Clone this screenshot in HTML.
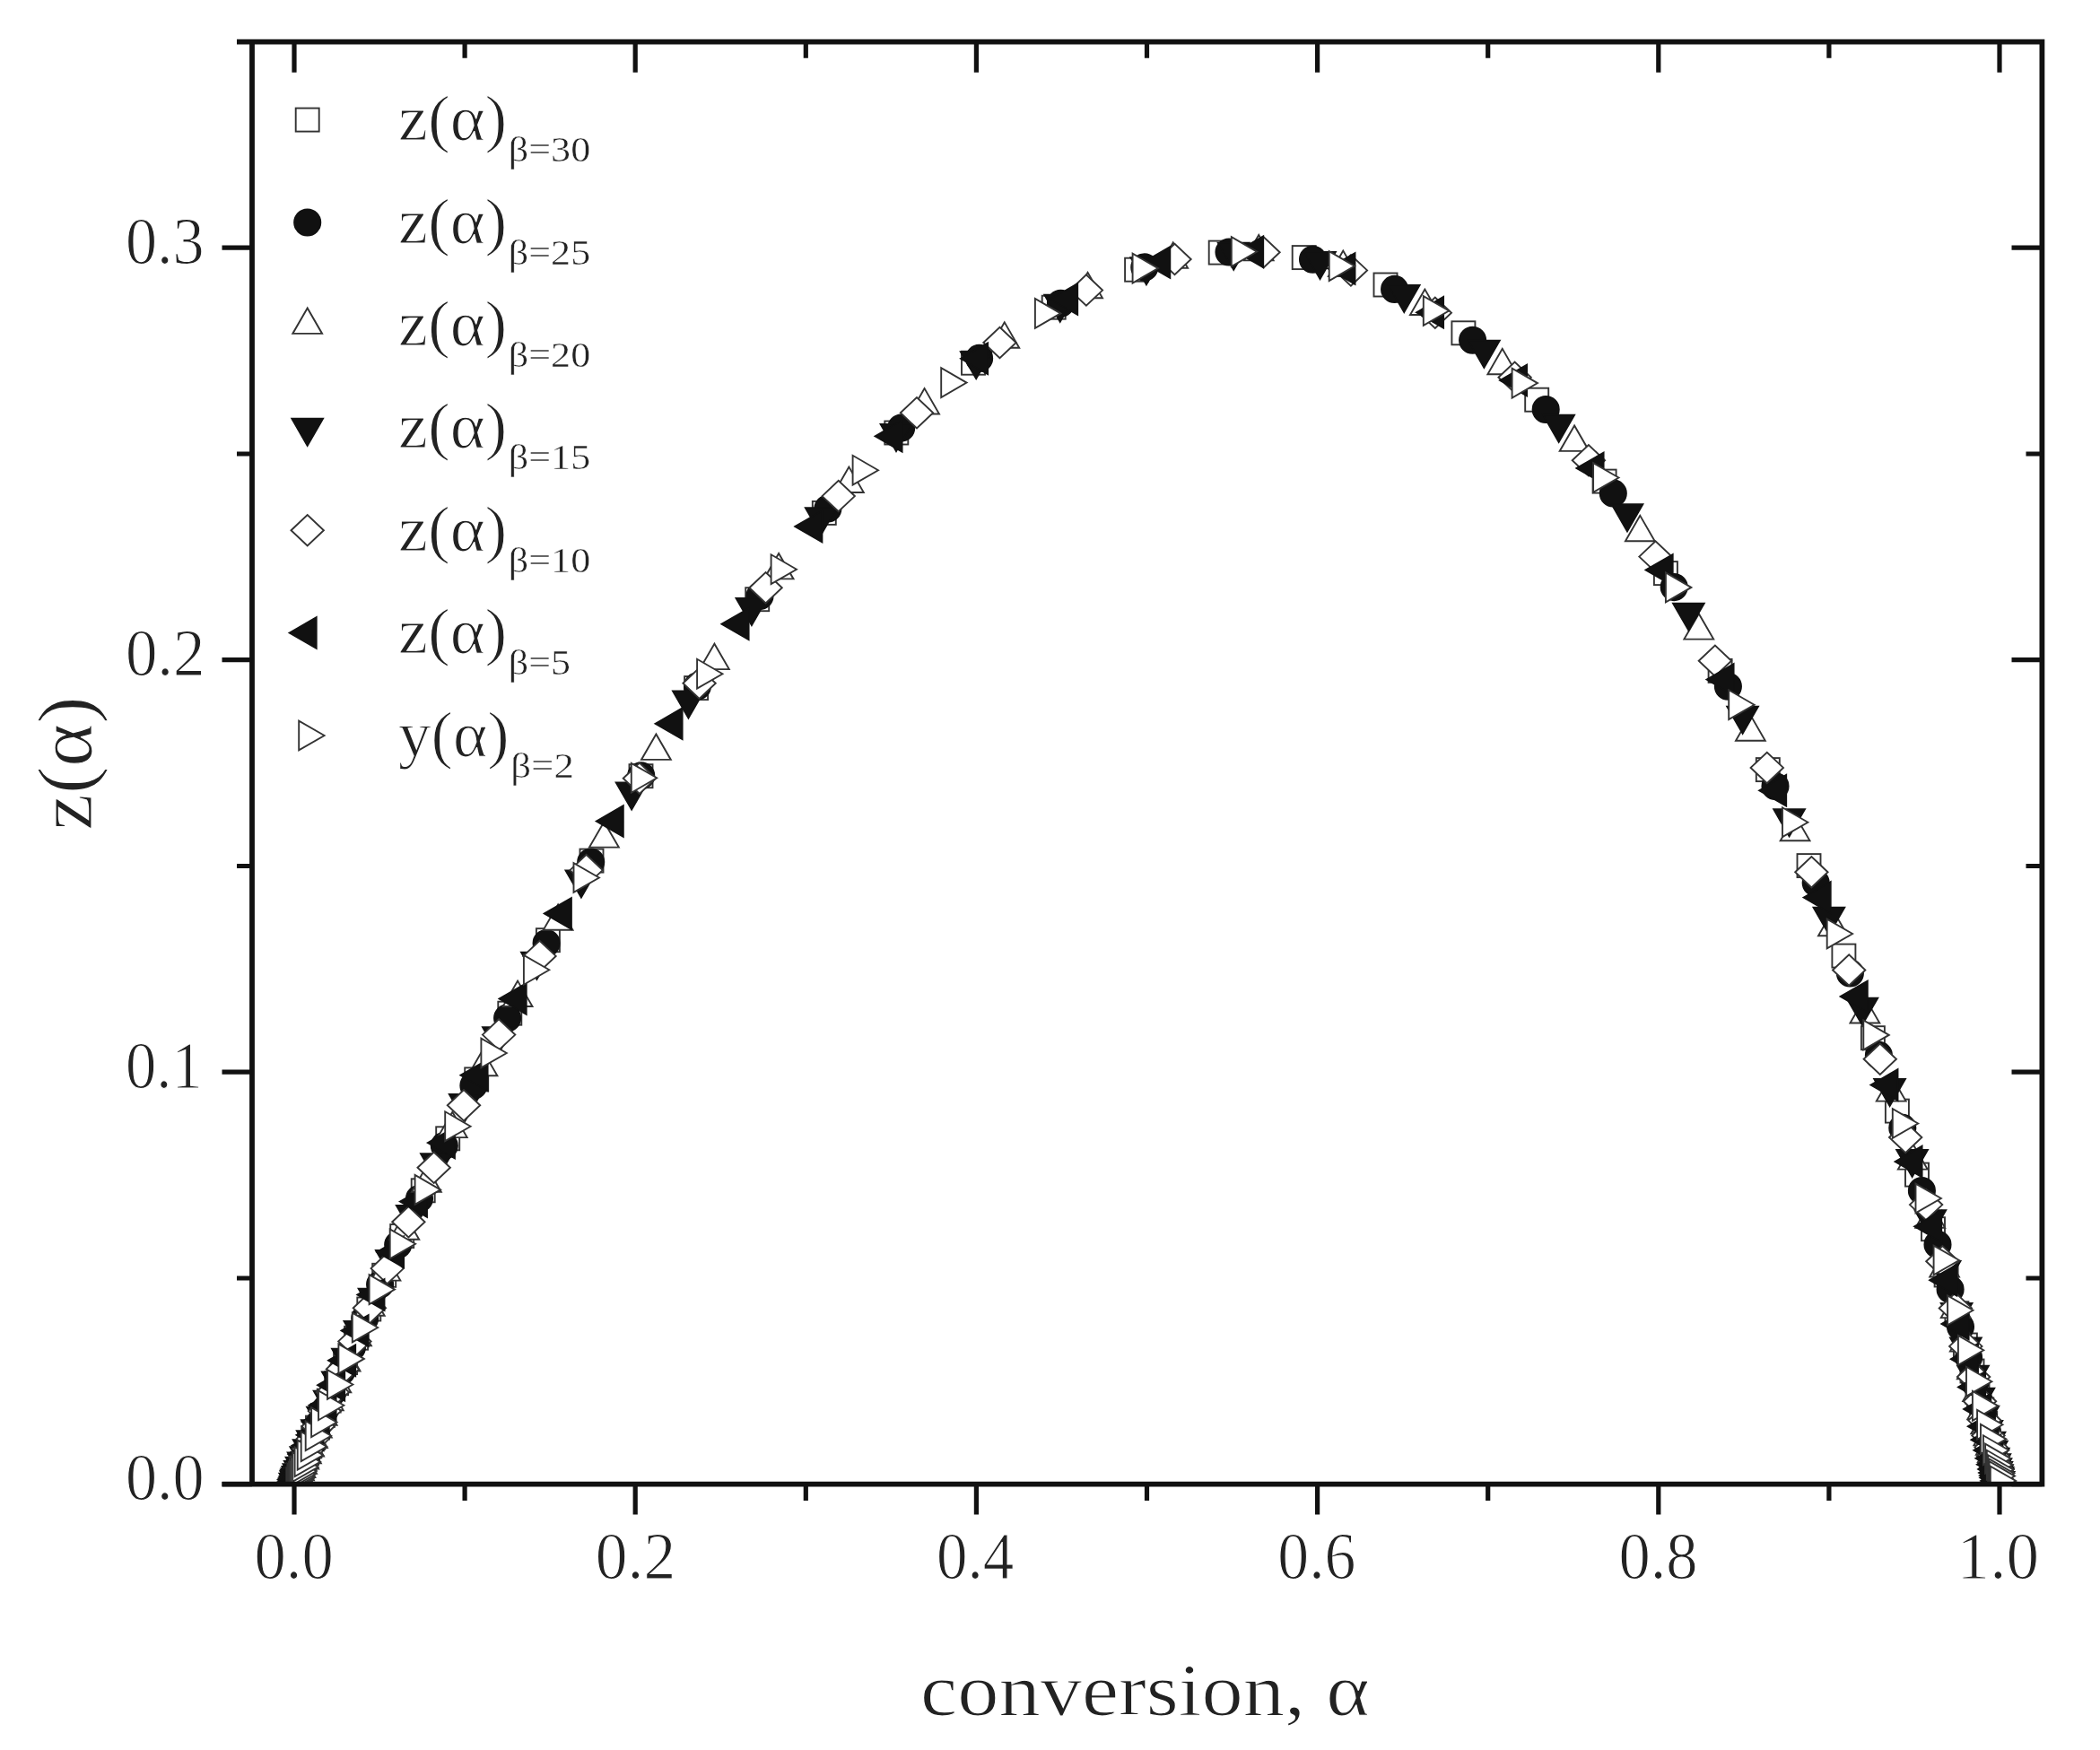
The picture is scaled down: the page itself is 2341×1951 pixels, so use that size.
<!DOCTYPE html>
<html lang="en"><head><meta charset="utf-8"><title>z(α) master plot</title>
<style>
html,body{margin:0;padding:0;background:#fff}
svg{display:block;filter:blur(0.75px)}
text{font-family:"Liberation Serif","DejaVu Serif",serif;fill:#222;stroke:#fff;stroke-width:1.1px}
.sub{stroke-width:0.45px}
.o{fill:#fff;stroke:#333;stroke-width:1.9;stroke-linejoin:miter}
.f{fill:#111;stroke:#111;stroke-width:1.5;stroke-linejoin:miter}
</style></head><body>
<svg width="2341" height="1951" viewBox="0 0 2341 1951">
<rect width="100%" height="100%" fill="#fff"/>
<defs><clipPath id="cp"><rect x="281.0" y="46.6" width="1995.4" height="1608.1000000000001"/></clipPath></defs>
<g id="series" clip-path="url(#cp)">
<g class="s-sq">
<rect x="315.8" y="1639.7" width="26.0" height="26.0" class="o"/>
<rect x="316.6" y="1637.6" width="26.0" height="26.0" class="o"/>
<rect x="317.0" y="1636.6" width="26.0" height="26.0" class="o"/>
<rect x="317.5" y="1635.4" width="26.0" height="26.0" class="o"/>
<rect x="318.1" y="1633.8" width="26.0" height="26.0" class="o"/>
<rect x="318.9" y="1631.9" width="26.0" height="26.0" class="o"/>
<rect x="319.8" y="1629.5" width="26.0" height="26.0" class="o"/>
<rect x="321.0" y="1626.6" width="26.0" height="26.0" class="o"/>
<rect x="322.5" y="1623.1" width="26.0" height="26.0" class="o"/>
<rect x="324.2" y="1618.8" width="26.0" height="26.0" class="o"/>
<rect x="326.4" y="1613.5" width="26.0" height="26.0" class="o"/>
<rect x="329.1" y="1607.1" width="26.0" height="26.0" class="o"/>
<rect x="332.3" y="1599.3" width="26.0" height="26.0" class="o"/>
<rect x="336.2" y="1589.9" width="26.0" height="26.0" class="o"/>
<rect x="341.0" y="1578.6" width="26.0" height="26.0" class="o"/>
<rect x="346.8" y="1564.9" width="26.0" height="26.0" class="o"/>
<rect x="353.7" y="1548.6" width="26.0" height="26.0" class="o"/>
<rect x="362.1" y="1529.2" width="26.0" height="26.0" class="o"/>
<rect x="372.1" y="1506.1" width="26.0" height="26.0" class="o"/>
<rect x="384.1" y="1478.7" width="26.0" height="26.0" class="o"/>
<rect x="398.3" y="1446.5" width="26.0" height="26.0" class="o"/>
<rect x="415.2" y="1408.8" width="26.0" height="26.0" class="o"/>
<rect x="435.2" y="1365.0" width="26.0" height="26.0" class="o"/>
<rect x="458.7" y="1314.3" width="26.0" height="26.0" class="o"/>
<rect x="486.2" y="1256.3" width="26.0" height="26.0" class="o"/>
<rect x="518.2" y="1190.4" width="26.0" height="26.0" class="o"/>
<rect x="555.3" y="1116.7" width="26.0" height="26.0" class="o"/>
<rect x="597.9" y="1035.2" width="26.0" height="26.0" class="o"/>
<rect x="646.5" y="946.6" width="26.0" height="26.0" class="o"/>
<rect x="701.5" y="852.2" width="26.0" height="26.0" class="o"/>
<rect x="763.1" y="754.1" width="26.0" height="26.0" class="o"/>
<rect x="831.2" y="655.2" width="26.0" height="26.0" class="o"/>
<rect x="905.8" y="558.9" width="26.0" height="26.0" class="o"/>
<rect x="986.3" y="469.5" width="26.0" height="26.0" class="o"/>
<rect x="1072.0" y="391.7" width="26.0" height="26.0" class="o"/>
<rect x="1161.7" y="329.7" width="26.0" height="26.0" class="o"/>
<rect x="1254.1" y="287.7" width="26.0" height="26.0" class="o"/>
<rect x="1347.7" y="268.6" width="26.0" height="26.0" class="o"/>
<rect x="1440.7" y="274.1" width="26.0" height="26.0" class="o"/>
<rect x="1531.5" y="304.5" width="26.0" height="26.0" class="o"/>
<rect x="1618.4" y="358.3" width="26.0" height="26.0" class="o"/>
<rect x="1700.2" y="432.7" width="26.0" height="26.0" class="o"/>
<rect x="1775.6" y="523.6" width="26.0" height="26.0" class="o"/>
<rect x="1843.9" y="626.1" width="26.0" height="26.0" class="o"/>
<rect x="1904.6" y="734.9" width="26.0" height="26.0" class="o"/>
<rect x="1957.8" y="845.1" width="26.0" height="26.0" class="o"/>
<rect x="2003.5" y="952.1" width="26.0" height="26.0" class="o"/>
<rect x="2042.4" y="1052.6" width="26.0" height="26.0" class="o"/>
<rect x="2074.9" y="1144.2" width="26.0" height="26.0" class="o"/>
<rect x="2101.9" y="1225.6" width="26.0" height="26.0" class="o"/>
<rect x="2124.0" y="1296.6" width="26.0" height="26.0" class="o"/>
<rect x="2142.0" y="1357.2" width="26.0" height="26.0" class="o"/>
<rect x="2156.6" y="1408.5" width="26.0" height="26.0" class="o"/>
<rect x="2168.4" y="1451.2" width="26.0" height="26.0" class="o"/>
<rect x="2177.9" y="1486.5" width="26.0" height="26.0" class="o"/>
<rect x="2185.5" y="1515.5" width="26.0" height="26.0" class="o"/>
<rect x="2191.5" y="1539.1" width="26.0" height="26.0" class="o"/>
<rect x="2196.3" y="1558.4" width="26.0" height="26.0" class="o"/>
<rect x="2200.2" y="1574.0" width="26.0" height="26.0" class="o"/>
<rect x="2203.3" y="1586.7" width="26.0" height="26.0" class="o"/>
<rect x="2205.8" y="1596.9" width="26.0" height="26.0" class="o"/>
<rect x="2207.7" y="1605.2" width="26.0" height="26.0" class="o"/>
<rect x="2209.3" y="1611.9" width="26.0" height="26.0" class="o"/>
<rect x="2210.6" y="1617.3" width="26.0" height="26.0" class="o"/>
<rect x="2211.6" y="1621.7" width="26.0" height="26.0" class="o"/>
<rect x="2212.4" y="1625.2" width="26.0" height="26.0" class="o"/>
<rect x="2213.0" y="1628.1" width="26.0" height="26.0" class="o"/>
<rect x="2213.6" y="1630.5" width="26.0" height="26.0" class="o"/>
<rect x="2214.0" y="1632.4" width="26.0" height="26.0" class="o"/>
<rect x="2214.3" y="1634.0" width="26.0" height="26.0" class="o"/>
<rect x="2215.2" y="1638.0" width="26.0" height="26.0" class="o"/>
</g>
<g class="s-ci">
<circle cx="328.8" cy="1652.7" r="14.8" class="f"/>
<circle cx="329.6" cy="1650.6" r="14.8" class="f"/>
<circle cx="330.1" cy="1649.4" r="14.8" class="f"/>
<circle cx="330.7" cy="1647.9" r="14.8" class="f"/>
<circle cx="331.5" cy="1646.0" r="14.8" class="f"/>
<circle cx="332.4" cy="1643.5" r="14.8" class="f"/>
<circle cx="333.7" cy="1640.5" r="14.8" class="f"/>
<circle cx="335.2" cy="1636.7" r="14.8" class="f"/>
<circle cx="337.1" cy="1632.1" r="14.8" class="f"/>
<circle cx="339.5" cy="1626.3" r="14.8" class="f"/>
<circle cx="342.5" cy="1619.1" r="14.8" class="f"/>
<circle cx="346.1" cy="1610.4" r="14.8" class="f"/>
<circle cx="350.6" cy="1599.7" r="14.8" class="f"/>
<circle cx="356.1" cy="1586.6" r="14.8" class="f"/>
<circle cx="362.8" cy="1570.9" r="14.8" class="f"/>
<circle cx="370.9" cy="1551.9" r="14.8" class="f"/>
<circle cx="380.7" cy="1529.1" r="14.8" class="f"/>
<circle cx="392.5" cy="1502.0" r="14.8" class="f"/>
<circle cx="406.7" cy="1469.8" r="14.8" class="f"/>
<circle cx="423.6" cy="1432.0" r="14.8" class="f"/>
<circle cx="443.7" cy="1387.7" r="14.8" class="f"/>
<circle cx="467.5" cy="1336.3" r="14.8" class="f"/>
<circle cx="495.3" cy="1277.3" r="14.8" class="f"/>
<circle cx="527.9" cy="1210.2" r="14.8" class="f"/>
<circle cx="565.6" cy="1134.9" r="14.8" class="f"/>
<circle cx="609.1" cy="1051.6" r="14.8" class="f"/>
<circle cx="658.7" cy="961.1" r="14.8" class="f"/>
<circle cx="714.7" cy="864.8" r="14.8" class="f"/>
<circle cx="777.5" cy="764.9" r="14.8" class="f"/>
<circle cx="847.0" cy="664.4" r="14.8" class="f"/>
<circle cx="922.9" cy="567.0" r="14.8" class="f"/>
<circle cx="1004.7" cy="477.1" r="14.8" class="f"/>
<circle cx="1091.6" cy="399.4" r="14.8" class="f"/>
<circle cx="1182.4" cy="338.3" r="14.8" class="f"/>
<circle cx="1275.8" cy="297.9" r="14.8" class="f"/>
<circle cx="1370.0" cy="281.0" r="14.8" class="f"/>
<circle cx="1463.5" cy="289.2" r="14.8" class="f"/>
<circle cx="1554.6" cy="322.4" r="14.8" class="f"/>
<circle cx="1641.6" cy="379.2" r="14.8" class="f"/>
<circle cx="1723.2" cy="456.5" r="14.8" class="f"/>
<circle cx="1798.3" cy="549.9" r="14.8" class="f"/>
<circle cx="1866.2" cy="654.6" r="14.8" class="f"/>
<circle cx="1926.4" cy="765.2" r="14.8" class="f"/>
<circle cx="1979.0" cy="876.5" r="14.8" class="f"/>
<circle cx="2024.2" cy="984.2" r="14.8" class="f"/>
<circle cx="2062.4" cy="1084.9" r="14.8" class="f"/>
<circle cx="2094.4" cy="1176.4" r="14.8" class="f"/>
<circle cx="2120.8" cy="1257.4" r="14.8" class="f"/>
<circle cx="2142.4" cy="1327.6" r="14.8" class="f"/>
<circle cx="2160.0" cy="1387.4" r="14.8" class="f"/>
<circle cx="2174.1" cy="1437.6" r="14.8" class="f"/>
<circle cx="2185.5" cy="1479.3" r="14.8" class="f"/>
<circle cx="2194.6" cy="1513.5" r="14.8" class="f"/>
<circle cx="2201.8" cy="1541.4" r="14.8" class="f"/>
<circle cx="2207.5" cy="1564.0" r="14.8" class="f"/>
<circle cx="2212.0" cy="1582.3" r="14.8" class="f"/>
<circle cx="2215.6" cy="1596.9" r="14.8" class="f"/>
<circle cx="2218.5" cy="1608.7" r="14.8" class="f"/>
<circle cx="2220.7" cy="1618.1" r="14.8" class="f"/>
<circle cx="2222.5" cy="1625.6" r="14.8" class="f"/>
<circle cx="2223.9" cy="1631.6" r="14.8" class="f"/>
<circle cx="2224.9" cy="1636.3" r="14.8" class="f"/>
<circle cx="2225.8" cy="1640.1" r="14.8" class="f"/>
<circle cx="2226.5" cy="1643.1" r="14.8" class="f"/>
<circle cx="2227.0" cy="1645.5" r="14.8" class="f"/>
<circle cx="2227.4" cy="1647.4" r="14.8" class="f"/>
<circle cx="2228.2" cy="1651.0" r="14.8" class="f"/>
</g>
<g class="s-up">
<polygon points="328.8,1633.8 312.4,1662.2 345.2,1662.2" class="o"/>
<polygon points="329.7,1631.4 313.3,1659.8 346.1,1659.8" class="o"/>
<polygon points="330.2,1630.2 313.8,1658.6 346.6,1658.6" class="o"/>
<polygon points="330.7,1628.8 314.3,1657.2 347.1,1657.2" class="o"/>
<polygon points="331.5,1627.0 315.1,1655.4 347.9,1655.4" class="o"/>
<polygon points="332.4,1624.8 316.0,1653.2 348.8,1653.2" class="o"/>
<polygon points="333.5,1622.0 317.1,1650.4 349.9,1650.4" class="o"/>
<polygon points="334.9,1618.6 318.5,1647.0 351.3,1647.0" class="o"/>
<polygon points="336.6,1614.3 320.2,1642.7 353.0,1642.7" class="o"/>
<polygon points="338.8,1609.2 322.4,1637.6 355.2,1637.6" class="o"/>
<polygon points="341.4,1602.8 325.0,1631.2 357.8,1631.2" class="o"/>
<polygon points="344.6,1595.1 328.2,1623.5 361.0,1623.5" class="o"/>
<polygon points="348.5,1585.6 332.1,1614.0 364.9,1614.0" class="o"/>
<polygon points="353.3,1574.2 336.9,1602.6 369.7,1602.6" class="o"/>
<polygon points="359.2,1560.4 342.8,1588.8 375.6,1588.8" class="o"/>
<polygon points="366.3,1543.8 349.9,1572.2 382.7,1572.2" class="o"/>
<polygon points="374.8,1523.8 358.4,1552.2 391.2,1552.2" class="o"/>
<polygon points="385.1,1500.1 368.7,1528.5 401.5,1528.5" class="o"/>
<polygon points="397.5,1471.8 381.1,1500.2 413.9,1500.2" class="o"/>
<polygon points="412.3,1438.4 395.9,1466.8 428.7,1466.8" class="o"/>
<polygon points="429.9,1399.2 413.5,1427.6 446.3,1427.6" class="o"/>
<polygon points="450.8,1353.4 434.4,1381.8 467.2,1381.8" class="o"/>
<polygon points="475.4,1300.4 459.0,1328.8 491.8,1328.8" class="o"/>
<polygon points="504.3,1239.7 487.9,1268.1 520.7,1268.1" class="o"/>
<polygon points="538.0,1170.8 521.6,1199.2 554.4,1199.2" class="o"/>
<polygon points="577.1,1093.6 560.7,1122.0 593.5,1122.0" class="o"/>
<polygon points="622.1,1008.4 605.7,1036.8 638.5,1036.8" class="o"/>
<polygon points="673.4,916.2 657.0,944.6 689.8,944.6" class="o"/>
<polygon points="731.4,818.5 715.0,846.9 747.8,846.9" class="o"/>
<polygon points="796.4,717.7 780.0,746.1 812.8,746.1" class="o"/>
<polygon points="868.1,617.0 851.7,645.4 884.5,645.4" class="o"/>
<polygon points="946.4,520.6 930.0,549.0 962.8,549.0" class="o"/>
<polygon points="1030.6,433.1 1014.2,461.5 1047.0,461.5" class="o"/>
<polygon points="1119.8,359.3 1103.4,387.7 1136.2,387.7" class="o"/>
<polygon points="1212.6,303.8 1196.2,332.2 1229.0,332.2" class="o"/>
<polygon points="1307.7,270.5 1291.3,298.9 1324.1,298.9" class="o"/>
<polygon points="1403.2,262.0 1386.8,290.4 1419.6,290.4" class="o"/>
<polygon points="1497.3,279.6 1480.9,308.0 1513.7,308.0" class="o"/>
<polygon points="1588.4,322.6 1572.0,351.0 1604.8,351.0" class="o"/>
<polygon points="1674.8,388.8 1658.4,417.2 1691.2,417.2" class="o"/>
<polygon points="1755.1,474.5 1738.7,502.9 1771.5,502.9" class="o"/>
<polygon points="1828.3,574.8 1811.9,603.2 1844.7,603.2" class="o"/>
<polygon points="1893.8,684.2 1877.4,712.6 1910.2,712.6" class="o"/>
<polygon points="1951.4,797.3 1935.0,825.7 1967.8,825.7" class="o"/>
<polygon points="2001.1,908.8 1984.7,937.2 2017.5,937.2" class="o"/>
<polygon points="2043.4,1014.8 2027.0,1043.2 2059.8,1043.2" class="o"/>
<polygon points="2078.9,1112.1 2062.5,1140.5 2095.3,1140.5" class="o"/>
<polygon points="2108.2,1199.2 2091.8,1227.6 2124.6,1227.6" class="o"/>
<polygon points="2132.3,1275.2 2115.9,1303.6 2148.7,1303.6" class="o"/>
<polygon points="2151.8,1340.3 2135.4,1368.7 2168.2,1368.7" class="o"/>
<polygon points="2167.6,1395.1 2151.2,1423.5 2184.0,1423.5" class="o"/>
<polygon points="2180.2,1440.7 2163.8,1469.1 2196.6,1469.1" class="o"/>
<polygon points="2190.3,1478.2 2173.9,1506.6 2206.7,1506.6" class="o"/>
<polygon points="2198.3,1508.9 2181.9,1537.3 2214.7,1537.3" class="o"/>
<polygon points="2204.6,1533.7 2188.2,1562.1 2221.0,1562.1" class="o"/>
<polygon points="2209.7,1553.8 2193.3,1582.2 2226.1,1582.2" class="o"/>
<polygon points="2213.7,1570.0 2197.3,1598.4 2230.1,1598.4" class="o"/>
<polygon points="2216.8,1583.0 2200.4,1611.4 2233.2,1611.4" class="o"/>
<polygon points="2219.3,1593.4 2202.9,1621.8 2235.7,1621.8" class="o"/>
<polygon points="2221.3,1601.7 2204.9,1630.1 2237.7,1630.1" class="o"/>
<polygon points="2222.9,1608.4 2206.5,1636.8 2239.3,1636.8" class="o"/>
<polygon points="2224.1,1613.7 2207.7,1642.1 2240.5,1642.1" class="o"/>
<polygon points="2225.1,1618.0 2208.7,1646.4 2241.5,1646.4" class="o"/>
<polygon points="2225.9,1621.4 2209.5,1649.8 2242.3,1649.8" class="o"/>
<polygon points="2226.5,1624.1 2210.1,1652.5 2242.9,1652.5" class="o"/>
<polygon points="2227.0,1626.3 2210.6,1654.7 2243.4,1654.7" class="o"/>
<polygon points="2227.4,1628.1 2211.0,1656.5 2243.8,1656.5" class="o"/>
<polygon points="2228.2,1632.1 2211.8,1660.5 2244.6,1660.5" class="o"/>
</g>
<g class="s-dn">
<polygon points="328.8,1673.2 311.1,1642.5 346.5,1642.5" class="f"/>
<polygon points="329.8,1670.6 312.1,1639.9 347.5,1639.9" class="f"/>
<polygon points="330.3,1669.3 312.6,1638.6 348.0,1638.6" class="f"/>
<polygon points="331.0,1667.6 313.3,1636.9 348.7,1636.9" class="f"/>
<polygon points="331.8,1665.5 314.1,1634.8 349.5,1634.8" class="f"/>
<polygon points="332.9,1662.8 315.2,1632.1 350.6,1632.1" class="f"/>
<polygon points="334.3,1659.5 316.6,1628.8 352.0,1628.8" class="f"/>
<polygon points="336.0,1655.3 318.3,1624.6 353.7,1624.6" class="f"/>
<polygon points="338.1,1650.0 320.4,1619.3 355.8,1619.3" class="f"/>
<polygon points="340.8,1643.6 323.1,1612.9 358.5,1612.9" class="f"/>
<polygon points="344.1,1635.6 326.4,1604.9 361.8,1604.9" class="f"/>
<polygon points="348.2,1625.7 330.5,1595.0 365.9,1595.0" class="f"/>
<polygon points="353.3,1613.7 335.6,1583.0 371.0,1583.0" class="f"/>
<polygon points="359.5,1599.1 341.8,1568.4 377.2,1568.4" class="f"/>
<polygon points="367.1,1581.3 349.4,1550.6 384.8,1550.6" class="f"/>
<polygon points="376.3,1559.9 358.6,1529.2 394.0,1529.2" class="f"/>
<polygon points="387.4,1534.2 369.7,1503.5 405.1,1503.5" class="f"/>
<polygon points="400.9,1503.5 383.2,1472.8 418.6,1472.8" class="f"/>
<polygon points="417.0,1467.2 399.3,1436.5 434.7,1436.5" class="f"/>
<polygon points="436.3,1424.4 418.6,1393.7 454.0,1393.7" class="f"/>
<polygon points="459.2,1374.4 441.5,1343.7 476.9,1343.7" class="f"/>
<polygon points="486.4,1316.6 468.7,1285.9 504.1,1285.9" class="f"/>
<polygon points="518.2,1250.4 500.5,1219.7 535.9,1219.7" class="f"/>
<polygon points="555.4,1175.6 537.7,1144.9 573.1,1144.9" class="f"/>
<polygon points="598.4,1092.2 580.7,1061.5 616.1,1061.5" class="f"/>
<polygon points="647.9,1000.9 630.2,970.2 665.6,970.2" class="f"/>
<polygon points="704.1,903.0 686.4,872.3 721.8,872.3" class="f"/>
<polygon points="767.4,800.9 749.7,770.2 785.1,770.2" class="f"/>
<polygon points="837.9,697.4 820.2,666.7 855.6,666.7" class="f"/>
<polygon points="915.2,596.7 897.5,566.0 932.9,566.0" class="f"/>
<polygon points="999.0,503.4 981.3,472.7 1016.7,472.7" class="f"/>
<polygon points="1088.2,422.6 1070.5,391.9 1105.9,391.9" class="f"/>
<polygon points="1181.7,359.2 1164.0,328.5 1199.4,328.5" class="f"/>
<polygon points="1277.9,317.7 1260.2,287.0 1295.6,287.0" class="f"/>
<polygon points="1375.2,301.2 1357.5,270.5 1392.9,270.5" class="f"/>
<polygon points="1471.5,311.5 1453.8,280.8 1489.2,280.8" class="f"/>
<polygon points="1565.2,348.5 1547.5,317.8 1582.9,317.8" class="f"/>
<polygon points="1654.4,410.3 1636.7,379.6 1672.1,379.6" class="f"/>
<polygon points="1737.7,493.3 1720.0,462.6 1755.4,462.6" class="f"/>
<polygon points="1814.0,592.8 1796.3,562.1 1831.7,562.1" class="f"/>
<polygon points="1882.4,703.1 1864.7,672.4 1900.1,672.4" class="f"/>
<polygon points="1942.6,818.2 1924.9,787.5 1960.3,787.5" class="f"/>
<polygon points="1994.6,932.8 1976.9,902.1 2012.3,902.1" class="f"/>
<polygon points="2038.9,1042.2 2021.2,1011.5 2056.6,1011.5" class="f"/>
<polygon points="2075.9,1143.1 2058.2,1112.4 2093.6,1112.4" class="f"/>
<polygon points="2106.6,1233.5 2088.9,1202.8 2124.3,1202.8" class="f"/>
<polygon points="2131.6,1312.4 2113.9,1281.7 2149.3,1281.7" class="f"/>
<polygon points="2151.9,1379.8 2134.2,1349.1 2169.6,1349.1" class="f"/>
<polygon points="2168.1,1436.5 2150.4,1405.8 2185.8,1405.8" class="f"/>
<polygon points="2181.1,1483.4 2163.4,1452.7 2198.8,1452.7" class="f"/>
<polygon points="2191.4,1521.9 2173.7,1491.2 2209.1,1491.2" class="f"/>
<polygon points="2199.5,1553.1 2181.8,1522.4 2217.2,1522.4" class="f"/>
<polygon points="2205.9,1578.2 2188.2,1547.5 2223.6,1547.5" class="f"/>
<polygon points="2210.9,1598.3 2193.2,1567.6 2228.6,1567.6" class="f"/>
<polygon points="2214.9,1614.4 2197.2,1583.7 2232.6,1583.7" class="f"/>
<polygon points="2218.0,1627.1 2200.3,1596.4 2235.7,1596.4" class="f"/>
<polygon points="2220.4,1637.2 2202.7,1606.5 2238.1,1606.5" class="f"/>
<polygon points="2222.3,1645.3 2204.6,1614.6 2240.0,1614.6" class="f"/>
<polygon points="2223.8,1651.6 2206.1,1620.9 2241.5,1620.9" class="f"/>
<polygon points="2224.9,1656.6 2207.2,1625.9 2242.6,1625.9" class="f"/>
<polygon points="2225.8,1660.5 2208.1,1629.8 2243.5,1629.8" class="f"/>
<polygon points="2226.5,1663.6 2208.8,1632.9 2244.2,1632.9" class="f"/>
<polygon points="2227.0,1666.1 2209.3,1635.4 2244.7,1635.4" class="f"/>
<polygon points="2227.5,1668.0 2209.8,1637.3 2245.2,1637.3" class="f"/>
<polygon points="2228.2,1671.5 2210.5,1640.8 2245.9,1640.8" class="f"/>
</g>
<g class="s-di">
<polygon points="310.6,1652.7 328.8,1635.5 347.0,1652.7 328.8,1669.9" class="o"/>
<polygon points="311.4,1650.5 329.6,1633.3 347.8,1650.5 329.6,1667.7" class="o"/>
<polygon points="312.0,1649.0 330.2,1631.8 348.4,1649.0 330.2,1666.2" class="o"/>
<polygon points="312.8,1647.0 331.0,1629.8 349.2,1647.0 331.0,1664.2" class="o"/>
<polygon points="313.9,1644.4 332.1,1627.2 350.3,1644.4 332.1,1661.6" class="o"/>
<polygon points="315.2,1641.1 333.4,1623.9 351.6,1641.1 333.4,1658.3" class="o"/>
<polygon points="317.0,1636.7 335.2,1619.5 353.4,1636.7 335.2,1653.9" class="o"/>
<polygon points="319.3,1631.2 337.5,1614.0 355.7,1631.2 337.5,1648.4" class="o"/>
<polygon points="322.2,1624.1 340.4,1606.9 358.6,1624.1 340.4,1641.3" class="o"/>
<polygon points="325.9,1615.2 344.1,1598.0 362.3,1615.2 344.1,1632.4" class="o"/>
<polygon points="330.5,1604.1 348.7,1586.9 366.9,1604.1 348.7,1621.3" class="o"/>
<polygon points="336.4,1590.2 354.6,1573.0 372.8,1590.2 354.6,1607.4" class="o"/>
<polygon points="343.6,1573.1 361.8,1555.9 380.0,1573.1 361.8,1590.3" class="o"/>
<polygon points="352.6,1552.0 370.8,1534.8 389.0,1552.0 370.8,1569.2" class="o"/>
<polygon points="363.7,1526.4 381.9,1509.2 400.1,1526.4 381.9,1543.6" class="o"/>
<polygon points="377.2,1495.4 395.4,1478.2 413.6,1495.4 395.4,1512.6" class="o"/>
<polygon points="393.7,1458.3 411.9,1441.1 430.1,1458.3 411.9,1475.5" class="o"/>
<polygon points="413.5,1414.1 431.7,1396.9 449.9,1414.1 431.7,1431.3" class="o"/>
<polygon points="437.2,1362.2 455.4,1345.0 473.6,1362.2 455.4,1379.4" class="o"/>
<polygon points="465.5,1301.8 483.7,1284.6 501.9,1301.8 483.7,1319.0" class="o"/>
<polygon points="498.8,1232.3 517.0,1215.1 535.2,1232.3 517.0,1249.5" class="o"/>
<polygon points="537.9,1153.6 556.1,1136.4 574.3,1153.6 556.1,1170.8" class="o"/>
<polygon points="583.3,1065.9 601.5,1048.7 619.7,1065.9 601.5,1083.1" class="o"/>
<polygon points="635.4,970.1 653.6,952.9 671.8,970.1 653.6,987.3" class="o"/>
<polygon points="694.7,867.8 712.9,850.6 731.1,867.8 712.9,885.0" class="o"/>
<polygon points="761.4,761.7 779.6,744.5 797.8,761.7 779.6,778.9" class="o"/>
<polygon points="835.4,655.3 853.6,638.1 871.8,655.3 853.6,672.5" class="o"/>
<polygon points="916.5,553.1 934.7,535.9 952.9,553.1 934.7,570.3" class="o"/>
<polygon points="1003.8,460.2 1022.0,443.0 1040.2,460.2 1022.0,477.4" class="o"/>
<polygon points="1096.3,382.0 1114.5,364.8 1132.7,382.0 1114.5,399.2" class="o"/>
<polygon points="1192.7,323.6 1210.9,306.4 1229.1,323.6 1210.9,340.8" class="o"/>
<polygon points="1291.3,289.0 1309.5,271.8 1327.7,289.0 1309.5,306.2" class="o"/>
<polygon points="1390.3,281.3 1408.5,264.1 1426.7,281.3 1408.5,298.5" class="o"/>
<polygon points="1487.7,301.4 1505.9,284.2 1524.1,301.4 1505.9,318.6" class="o"/>
<polygon points="1581.6,348.8 1599.8,331.6 1618.0,348.8 1599.8,366.0" class="o"/>
<polygon points="1670.4,420.8 1688.6,403.6 1706.8,420.8 1688.6,438.0" class="o"/>
<polygon points="1752.7,513.2 1770.9,496.0 1789.1,513.2 1770.9,530.4" class="o"/>
<polygon points="1827.3,620.6 1845.5,603.4 1863.7,620.6 1845.5,637.8" class="o"/>
<polygon points="1893.7,736.8 1911.9,719.6 1930.1,736.8 1911.9,754.0" class="o"/>
<polygon points="1951.6,855.9 1969.8,838.7 1988.0,855.9 1969.8,873.1" class="o"/>
<polygon points="2001.2,972.2 2019.4,955.0 2037.6,972.2 2019.4,989.4" class="o"/>
<polygon points="2043.0,1081.5 2061.2,1064.3 2079.4,1081.5 2061.2,1098.7" class="o"/>
<polygon points="2077.6,1180.7 2095.8,1163.5 2114.0,1180.7 2095.8,1197.9" class="o"/>
<polygon points="2106.0,1268.0 2124.2,1250.8 2142.4,1268.0 2124.2,1285.2" class="o"/>
<polygon points="2128.9,1343.1 2147.1,1325.9 2165.3,1343.1 2147.1,1360.3" class="o"/>
<polygon points="2147.2,1406.3 2165.4,1389.1 2183.6,1406.3 2165.4,1423.5" class="o"/>
<polygon points="2161.7,1458.4 2179.9,1441.2 2198.1,1458.4 2179.9,1475.6" class="o"/>
<polygon points="2173.1,1500.9 2191.3,1483.7 2209.5,1500.9 2191.3,1518.1" class="o"/>
<polygon points="2181.9,1535.0 2200.1,1517.8 2218.3,1535.0 2200.1,1552.2" class="o"/>
<polygon points="2188.8,1562.2 2207.0,1545.0 2225.2,1562.2 2207.0,1579.4" class="o"/>
<polygon points="2194.2,1583.6 2212.4,1566.4 2230.6,1583.6 2212.4,1600.8" class="o"/>
<polygon points="2198.3,1600.4 2216.5,1583.2 2234.7,1600.4 2216.5,1617.6" class="o"/>
<polygon points="2201.4,1613.4 2219.6,1596.2 2237.8,1613.4 2219.6,1630.6" class="o"/>
<polygon points="2203.8,1623.5 2222.0,1606.3 2240.2,1623.5 2222.0,1640.7" class="o"/>
<polygon points="2205.6,1631.2 2223.8,1614.0 2242.0,1631.2 2223.8,1648.4" class="o"/>
<polygon points="2206.9,1637.1 2225.1,1619.9 2243.3,1637.1 2225.1,1654.3" class="o"/>
<polygon points="2208.0,1641.6 2226.2,1624.4 2244.4,1641.6 2226.2,1658.8" class="o"/>
<polygon points="2208.7,1645.0 2226.9,1627.8 2245.1,1645.0 2226.9,1662.2" class="o"/>
<polygon points="2210.0,1651.0 2228.2,1633.8 2246.4,1651.0 2228.2,1668.2" class="o"/>
</g>
<g class="s-lt">
<polygon points="308.3,1652.7 339.0,1635.0 339.0,1670.4" class="f"/>
<polygon points="309.5,1649.7 340.2,1632.0 340.2,1667.4" class="f"/>
<polygon points="310.1,1648.1 340.8,1630.4 340.8,1665.8" class="f"/>
<polygon points="311.0,1645.9 341.7,1628.2 341.7,1663.6" class="f"/>
<polygon points="312.2,1643.1 342.9,1625.4 342.9,1660.8" class="f"/>
<polygon points="313.6,1639.4 344.3,1621.7 344.3,1657.1" class="f"/>
<polygon points="315.6,1634.7 346.3,1617.0 346.3,1652.4" class="f"/>
<polygon points="318.0,1628.8 348.7,1611.1 348.7,1646.5" class="f"/>
<polygon points="321.1,1621.2 351.8,1603.5 351.8,1638.9" class="f"/>
<polygon points="325.1,1611.7 355.8,1594.0 355.8,1629.4" class="f"/>
<polygon points="330.1,1599.8 360.8,1582.1 360.8,1617.5" class="f"/>
<polygon points="336.3,1585.0 367.0,1567.3 367.0,1602.7" class="f"/>
<polygon points="344.1,1566.7 374.8,1549.0 374.8,1584.4" class="f"/>
<polygon points="353.7,1544.2 384.4,1526.5 384.4,1561.9" class="f"/>
<polygon points="365.7,1516.7 396.4,1499.0 396.4,1534.4" class="f"/>
<polygon points="380.2,1483.4 410.9,1465.7 410.9,1501.1" class="f"/>
<polygon points="398.0,1443.4 428.7,1425.7 428.7,1461.1" class="f"/>
<polygon points="419.6,1395.8 450.3,1378.1 450.3,1413.5" class="f"/>
<polygon points="445.5,1339.6 476.2,1321.9 476.2,1357.3" class="f"/>
<polygon points="476.4,1274.1 507.1,1256.4 507.1,1291.8" class="f"/>
<polygon points="513.1,1198.7 543.8,1181.0 543.8,1216.4" class="f"/>
<polygon points="556.2,1113.4 586.9,1095.7 586.9,1131.1" class="f"/>
<polygon points="606.4,1018.5 637.1,1000.8 637.1,1036.2" class="f"/>
<polygon points="664.3,915.6 695.0,897.9 695.0,933.3" class="f"/>
<polygon points="730.1,806.8 760.8,789.1 760.8,824.5" class="f"/>
<polygon points="804.1,695.7 834.8,678.0 834.8,713.4" class="f"/>
<polygon points="885.9,587.0 916.6,569.3 916.6,604.7" class="f"/>
<polygon points="975.1,486.3 1005.8,468.6 1005.8,504.0" class="f"/>
<polygon points="1070.6,399.8 1101.3,382.1 1101.3,417.5" class="f"/>
<polygon points="1170.7,333.6 1201.4,315.9 1201.4,351.3" class="f"/>
<polygon points="1273.8,292.6 1304.5,274.9 1304.5,310.3" class="f"/>
<polygon points="1377.7,280.8 1408.4,263.1 1408.4,298.5" class="f"/>
<polygon points="1480.0,299.5 1510.7,281.8 1510.7,317.2" class="f"/>
<polygon points="1578.6,348.3 1609.3,330.6 1609.3,366.0" class="f"/>
<polygon points="1671.6,424.1 1702.3,406.4 1702.3,441.8" class="f"/>
<polygon points="1757.1,522.0 1787.8,504.3 1787.8,539.7" class="f"/>
<polygon points="1834.2,635.5 1864.9,617.8 1864.9,653.2" class="f"/>
<polygon points="1902.1,757.6 1932.8,739.9 1932.8,775.3" class="f"/>
<polygon points="1960.7,881.3 1991.4,863.6 1991.4,899.0" class="f"/>
<polygon points="2010.2,1000.6 2040.9,982.9 2040.9,1018.3" class="f"/>
<polygon points="2051.3,1111.0 2082.0,1093.3 2082.0,1128.7" class="f"/>
<polygon points="2085.0,1209.6 2115.7,1191.9 2115.7,1227.3" class="f"/>
<polygon points="2112.1,1295.1 2142.8,1277.4 2142.8,1312.8" class="f"/>
<polygon points="2133.7,1367.3 2164.4,1349.6 2164.4,1385.0" class="f"/>
<polygon points="2150.8,1427.2 2181.5,1409.5 2181.5,1444.9" class="f"/>
<polygon points="2164.1,1476.0 2194.8,1458.3 2194.8,1493.7" class="f"/>
<polygon points="2174.5,1515.2 2205.2,1497.5 2205.2,1532.9" class="f"/>
<polygon points="2182.6,1546.4 2213.3,1528.7 2213.3,1564.1" class="f"/>
<polygon points="2188.8,1571.0 2219.5,1553.3 2219.5,1588.7" class="f"/>
<polygon points="2193.5,1590.2 2224.2,1572.5 2224.2,1607.9" class="f"/>
<polygon points="2197.2,1605.2 2227.9,1587.5 2227.9,1622.9" class="f"/>
<polygon points="2199.9,1616.8 2230.6,1599.1 2230.6,1634.5" class="f"/>
<polygon points="2202.0,1625.8 2232.7,1608.1 2232.7,1643.5" class="f"/>
<polygon points="2203.6,1632.7 2234.3,1615.0 2234.3,1650.4" class="f"/>
<polygon points="2204.9,1638.0 2235.6,1620.3 2235.6,1655.7" class="f"/>
<polygon points="2205.8,1642.0 2236.5,1624.3 2236.5,1659.7" class="f"/>
<polygon points="2206.5,1645.1 2237.2,1627.4 2237.2,1662.8" class="f"/>
<polygon points="2207.0,1647.5 2237.7,1629.8 2237.7,1665.2" class="f"/>
<polygon points="2207.8,1651.0 2238.5,1633.3 2238.5,1668.7" class="f"/>
</g>
<g class="s-rt">
<polygon points="347.7,1652.7 319.3,1636.3 319.3,1669.1" class="o"/>
<polygon points="348.8,1650.1 320.4,1633.7 320.4,1666.5" class="o"/>
<polygon points="349.4,1648.5 321.0,1632.1 321.0,1664.9" class="o"/>
<polygon points="350.2,1646.4 321.8,1630.0 321.8,1662.8" class="o"/>
<polygon points="351.3,1643.6 322.9,1627.2 322.9,1660.0" class="o"/>
<polygon points="352.8,1640.1 324.4,1623.7 324.4,1656.5" class="o"/>
<polygon points="354.6,1635.5 326.2,1619.1 326.2,1651.9" class="o"/>
<polygon points="357.0,1629.7 328.6,1613.3 328.6,1646.1" class="o"/>
<polygon points="360.1,1622.2 331.7,1605.8 331.7,1638.6" class="o"/>
<polygon points="364.1,1612.7 335.7,1596.3 335.7,1629.1" class="o"/>
<polygon points="369.1,1600.7 340.7,1584.3 340.7,1617.1" class="o"/>
<polygon points="375.5,1585.6 347.1,1569.2 347.1,1602.0" class="o"/>
<polygon points="383.4,1566.8 355.0,1550.4 355.0,1583.2" class="o"/>
<polygon points="393.4,1543.5 365.0,1527.1 365.0,1559.9" class="o"/>
<polygon points="405.8,1514.9 377.4,1498.5 377.4,1531.3" class="o"/>
<polygon points="421.2,1480.0 392.8,1463.6 392.8,1496.4" class="o"/>
<polygon points="440.0,1437.6 411.6,1421.2 411.6,1454.0" class="o"/>
<polygon points="463.1,1386.8 434.7,1370.4 434.7,1403.2" class="o"/>
<polygon points="491.0,1326.4 462.6,1310.0 462.6,1342.8" class="o"/>
<polygon points="524.6,1255.7 496.2,1239.3 496.2,1272.1" class="o"/>
<polygon points="564.8,1174.0 536.4,1157.6 536.4,1190.4" class="o"/>
<polygon points="612.3,1081.3 583.9,1064.9 583.9,1097.7" class="o"/>
<polygon points="667.9,978.5 639.5,962.1 639.5,994.9" class="o"/>
<polygon points="732.2,867.3 703.8,850.9 703.8,883.7" class="o"/>
<polygon points="805.5,751.2 777.1,734.8 777.1,767.6" class="o"/>
<polygon points="888.0,634.7 859.6,618.3 859.6,651.1" class="o"/>
<polygon points="979.0,524.2 950.6,507.8 950.6,540.6" class="o"/>
<polygon points="1077.6,426.6 1049.2,410.2 1049.2,443.0" class="o"/>
<polygon points="1182.3,349.4 1153.9,333.0 1153.9,365.8" class="o"/>
<polygon points="1291.0,299.1 1262.6,282.7 1262.6,315.5" class="o"/>
<polygon points="1401.2,280.6 1372.8,264.2 1372.8,297.0" class="o"/>
<polygon points="1510.1,296.6 1481.7,280.2 1481.7,313.0" class="o"/>
<polygon points="1615.2,346.5 1586.8,330.1 1586.8,362.9" class="o"/>
<polygon points="1714.0,427.1 1685.6,410.7 1685.6,443.5" class="o"/>
<polygon points="1804.5,532.5 1776.1,516.1 1776.1,548.9" class="o"/>
<polygon points="1885.3,654.9 1856.9,638.5 1856.9,671.3" class="o"/>
<polygon points="1955.6,785.7 1927.2,769.3 1927.2,802.1" class="o"/>
<polygon points="2015.4,916.7 1987.0,900.3 1987.0,933.1" class="o"/>
<polygon points="2065.1,1041.0 2036.7,1024.6 2036.7,1057.4" class="o"/>
<polygon points="2105.7,1153.9 2077.3,1137.5 2077.3,1170.3" class="o"/>
<polygon points="2138.2,1252.5 2109.8,1236.1 2109.8,1268.9" class="o"/>
<polygon points="2163.9,1336.0 2135.5,1319.6 2135.5,1352.4" class="o"/>
<polygon points="2184.0,1405.0 2155.6,1388.6 2155.6,1421.4" class="o"/>
<polygon points="2199.5,1460.8 2171.1,1444.4 2171.1,1477.2" class="o"/>
<polygon points="2211.3,1505.3 2182.9,1488.9 2182.9,1521.7" class="o"/>
<polygon points="2220.4,1540.2 2192.0,1523.8 2192.0,1556.6" class="o"/>
<polygon points="2227.3,1567.4 2198.9,1551.0 2198.9,1583.8" class="o"/>
<polygon points="2232.5,1588.3 2204.1,1571.9 2204.1,1604.7" class="o"/>
<polygon points="2236.4,1604.4 2208.0,1588.0 2208.0,1620.8" class="o"/>
<polygon points="2239.3,1616.7 2210.9,1600.3 2210.9,1633.1" class="o"/>
<polygon points="2241.5,1626.1 2213.1,1609.7 2213.1,1642.5" class="o"/>
<polygon points="2243.2,1633.2 2214.8,1616.8 2214.8,1649.6" class="o"/>
<polygon points="2244.4,1638.5 2216.0,1622.1 2216.0,1654.9" class="o"/>
<polygon points="2245.3,1642.6 2216.9,1626.2 2216.9,1659.0" class="o"/>
<polygon points="2246.0,1645.6 2217.6,1629.2 2217.6,1662.0" class="o"/>
<polygon points="2247.2,1651.0 2218.8,1634.6 2218.8,1667.4" class="o"/>
</g>
</g>
<g stroke="#111" fill="none" stroke-linecap="butt">
<path stroke-width="5.8" d="M281.0,43.7 V1657.6000000000001 M2276.4,43.7 V1657.6000000000001 M247.5,1654.7 H2279.3 M264,46.6 H2279.3"/>
<path stroke-width="5.2" d="M328.0,1654.7 V1688.5 M328.0,46.6 V80.8 M518.1,1654.7 V1673 M518.1,46.6 V64.8 M708.2,1654.7 V1688.5 M708.2,46.6 V80.8 M898.3,1654.7 V1673 M898.3,46.6 V64.8 M1088.4,1654.7 V1688.5 M1088.4,46.6 V80.8 M1278.5,1654.7 V1673 M1278.5,46.6 V64.8 M1468.6,1654.7 V1688.5 M1468.6,46.6 V80.8 M1658.7,1654.7 V1673 M1658.7,46.6 V64.8 M1848.8,1654.7 V1688.5 M1848.8,46.6 V80.8 M2038.9,1654.7 V1673 M2038.9,46.6 V64.8 M2229.0,1654.7 V1688.5 M2229.0,46.6 V80.8 M281.0,1654.7 H247.5 M2276.4,1654.7 H2242.5 M281.0,1425.0 H264 M2276.4,1425.0 H2258.5 M281.0,1195.2 H247.5 M2276.4,1195.2 H2242.5 M281.0,965.5 H264 M2276.4,965.5 H2258.5 M281.0,735.7 H247.5 M2276.4,735.7 H2242.5 M281.0,506.0 H264 M2276.4,506.0 H2258.5 M281.0,276.2 H247.5 M2276.4,276.2 H2242.5 M281.0,46.5 H264 M2276.4,46.5 H2258.5"/>
</g>
<g class="tl">
<text x="283.6" y="1759.5" font-size="74" textLength="88.2" lengthAdjust="spacingAndGlyphs" >0.0</text>
<text x="663.8" y="1759.5" font-size="74" textLength="89.3" lengthAdjust="spacingAndGlyphs" >0.2</text>
<text x="1044.1" y="1759.5" font-size="74" textLength="86.3" lengthAdjust="spacingAndGlyphs" >0.4</text>
<text x="1424.3" y="1759.5" font-size="74" textLength="87.2" lengthAdjust="spacingAndGlyphs" >0.6</text>
<text x="1804.4" y="1759.5" font-size="74" textLength="88.2" lengthAdjust="spacingAndGlyphs" >0.8</text>
<text x="2181.6" y="1759.5" font-size="74" textLength="91.4" lengthAdjust="spacingAndGlyphs" >1.0</text>
<text x="140.0" y="1672.2" font-size="74" textLength="87.7" lengthAdjust="spacingAndGlyphs" >0.0</text>
<text x="140.0" y="1212.7" font-size="74" textLength="85.7" lengthAdjust="spacingAndGlyphs" >0.1</text>
<text x="139.9" y="753.2" font-size="74" textLength="88.7" lengthAdjust="spacingAndGlyphs" >0.2</text>
<text x="140.0" y="293.7" font-size="74" textLength="87.7" lengthAdjust="spacingAndGlyphs" >0.3</text>
</g>
<text class="xt" x="1026.1" y="1912.0" font-size="82" textLength="500.7" lengthAdjust="spacingAndGlyphs" >conversion, α</text>
<text class="yt" x="-2.1" y="0.0" font-size="87" textLength="149.4" lengthAdjust="spacingAndGlyphs" transform="translate(101.8,923.6) rotate(-90)">z(α)</text>
<rect x="329.7" y="120.6" width="26.0" height="26.0" class="o"/>
<text class="lg" x="443.9" y="156.2" font-size="71" textLength="121.5" lengthAdjust="spacingAndGlyphs" >z(α)</text>
<text class="sub" x="566.8" y="180.2" font-size="41" textLength="91.4" lengthAdjust="spacingAndGlyphs" >β=30</text>
<circle cx="342.7" cy="248.0" r="14.8" class="f"/>
<text class="lg" x="443.9" y="270.6" font-size="71" textLength="121.5" lengthAdjust="spacingAndGlyphs" >z(α)</text>
<text class="sub" x="566.8" y="294.6" font-size="41" textLength="91.4" lengthAdjust="spacingAndGlyphs" >β=25</text>
<polygon points="342.7,343.5 326.3,371.9 359.1,371.9" class="o"/>
<text class="lg" x="443.9" y="385.0" font-size="71" textLength="121.5" lengthAdjust="spacingAndGlyphs" >z(α)</text>
<text class="sub" x="566.8" y="409.0" font-size="41" textLength="91.4" lengthAdjust="spacingAndGlyphs" >β=20</text>
<polygon points="342.7,497.3 325.0,466.6 360.4,466.6" class="f"/>
<text class="lg" x="443.9" y="499.4" font-size="71" textLength="121.5" lengthAdjust="spacingAndGlyphs" >z(α)</text>
<text class="sub" x="566.8" y="523.4" font-size="41" textLength="91.4" lengthAdjust="spacingAndGlyphs" >β=15</text>
<polygon points="324.5,591.2 342.7,574.0 360.9,591.2 342.7,608.4" class="o"/>
<text class="lg" x="443.9" y="613.8" font-size="71" textLength="121.5" lengthAdjust="spacingAndGlyphs" >z(α)</text>
<text class="sub" x="566.8" y="637.8" font-size="41" textLength="91.4" lengthAdjust="spacingAndGlyphs" >β=10</text>
<polygon points="322.2,705.6 352.9,687.9 352.9,723.3" class="f"/>
<text class="lg" x="443.9" y="728.2" font-size="71" textLength="121.5" lengthAdjust="spacingAndGlyphs" >z(α)</text>
<text class="sub" x="566.8" y="752.2" font-size="41" textLength="69.3" lengthAdjust="spacingAndGlyphs" >β=5</text>
<polygon points="361.6,820.0 333.2,803.6 333.2,836.4" class="o"/>
<text class="lg" x="444.0" y="842.6" font-size="71" textLength="123.6" lengthAdjust="spacingAndGlyphs" >y(α)</text>
<text class="sub" x="569.3" y="866.6" font-size="41" textLength="70.5" lengthAdjust="spacingAndGlyphs" >β=2</text>
</svg>
</body></html>
